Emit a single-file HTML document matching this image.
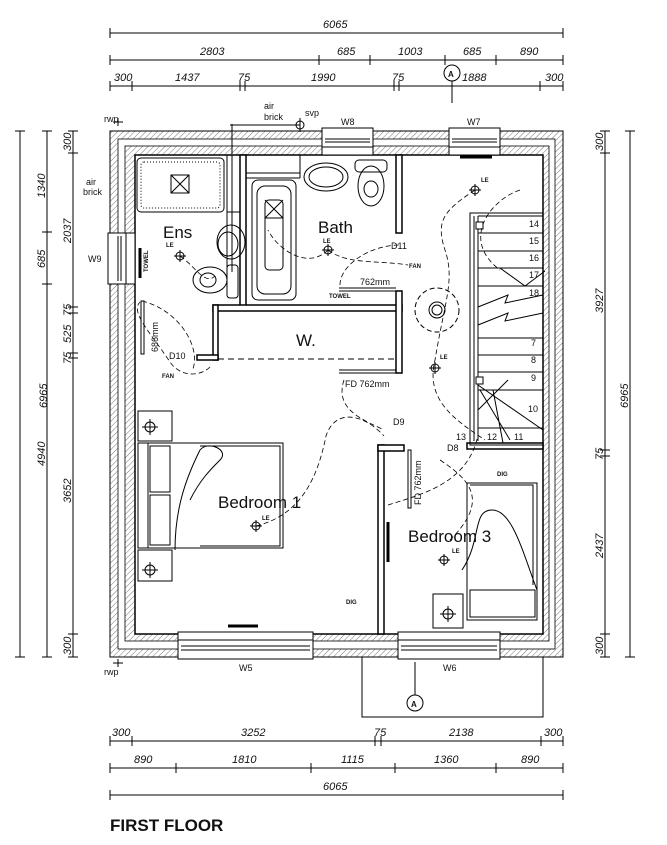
<!DOCTYPE html>
<html><head><meta charset="utf-8"><style>
html,body{margin:0;padding:0;background:#fff}
svg{display:block}
text{font-family:"Liberation Sans",sans-serif;fill:#111}
.d{font-size:11px;font-style:italic}
.s{font-size:9px}
.b{font-size:6px;font-weight:bold}
</style></head><body>
<svg width="667" height="845" viewBox="0 0 667 845" xmlns="http://www.w3.org/2000/svg">
<defs>
<pattern id="h" width="4" height="4" patternUnits="userSpaceOnUse" patternTransform="rotate(45)">
<rect width="4" height="4" fill="#fff"/><line x1="0" y1="0" x2="0" y2="4" stroke="#555" stroke-width="0.8"/></pattern>
</defs>
<g stroke="#000" stroke-width="1" fill="none">
<line x1="110" y1="33" x2="563" y2="33"/>
<line x1="110" y1="60" x2="563" y2="60"/>
<line x1="110" y1="86" x2="563" y2="86"/>
<path d="M110 28v10M563 28v10M110 55v10M319 55v10M370 55v10M445 55v10M496 55v10M563 55v10M110 81v10M132 81v10M240 81v10M245 81v10M394 81v10M399 81v10M540 81v10M563 81v10"/>
<line x1="110" y1="741" x2="563" y2="741"/>
<line x1="110" y1="768" x2="563" y2="768"/>
<line x1="110" y1="795" x2="563" y2="795"/>
<path d="M110 736v10M132 736v10M375 736v10M381 736v10M541 736v10M563 736v10M110 763v10M176 763v10M311 763v10M395 763v10M496 763v10M563 763v10M110 790v10M563 790v10"/>
<line x1="20" y1="131" x2="20" y2="657"/>
<line x1="47" y1="131" x2="47" y2="657"/>
<line x1="73" y1="131" x2="73" y2="657"/>
<path d="M15 131h10M15 657h10M42 131h10M42 232h10M42 284h10M42 657h10M68 131h10M68 153h10M68 307h10M68 313h10M68 353h10M68 358h10M68 634h10M68 657h10"/>
<line x1="605" y1="131" x2="605" y2="657"/>
<line x1="630" y1="131" x2="630" y2="657"/>
<path d="M600 131h10M600 153h10M600 450h10M600 456h10M600 634h10M600 657h10M625 131h10M625 657h10"/>
</g>
<g class="d">
<text x="323" y="28">6065</text>
<text x="200" y="55">2803</text>
<text x="337" y="55">685</text>
<text x="398" y="55">1003</text>
<text x="463" y="55">685</text>
<text x="520" y="55">890</text>
<text x="114" y="81">300</text>
<text x="175" y="81">1437</text>
<text x="238" y="81">75</text>
<text x="311" y="81">1990</text>
<text x="392" y="81">75</text>
<text x="462" y="81">1888</text>
<text x="545" y="81">300</text>
<text x="112" y="736">300</text>
<text x="241" y="736">3252</text>
<text x="374" y="736">75</text>
<text x="449" y="736">2138</text>
<text x="544" y="736">300</text>
<text x="134" y="763">890</text>
<text x="232" y="763">1810</text>
<text x="341" y="763">1115</text>
<text x="434" y="763">1360</text>
<text x="521" y="763">890</text>
<text x="323" y="790">6065</text>
<g transform="rotate(-90)">
<text x="-408" y="47">6965</text>
<text x="-198" y="45">1340</text>
<text x="-268" y="45">685</text>
<text x="-466" y="45">4940</text>
<text x="-151" y="71">300</text>
<text x="-243" y="71">2037</text>
<text x="-316" y="71">75</text>
<text x="-343" y="71">525</text>
<text x="-364" y="71">75</text>
<text x="-503" y="71">3652</text>
<text x="-655" y="71">300</text>
<text x="-151" y="603">300</text>
<text x="-313" y="603">3927</text>
<text x="-460" y="603">75</text>
<text x="-558" y="603">2437</text>
<text x="-655" y="603">300</text>
<text x="-408" y="628">6965</text>
</g>
</g>
<rect x="110" y="131" width="453" height="526" fill="url(#h)" stroke="#000"/>
<rect x="118" y="139" width="437" height="510" fill="#fff" stroke="#000" stroke-width="0.8"/>
<rect x="125" y="146" width="424" height="495" fill="url(#h)" stroke="#000" stroke-width="0.8"/>
<rect x="135" y="155" width="408" height="479" fill="#fff" stroke="#000" stroke-width="1.5"/>
<g fill="#fff" stroke="#000" stroke-width="1">
<rect x="322" y="128" width="51" height="27"/><path d="M325 139h45M325 142h45M322 147h51"/>
<rect x="449" y="128" width="51" height="27"/><path d="M452 139h45M452 142h45M449 147h51"/>
<rect x="108" y="233" width="27" height="51"/><path d="M118 236v45M121 236v45M126 233v51"/>
<rect x="178" y="632" width="135" height="27"/><path d="M181 650h129M181 646h129M178 640h135"/>
<rect x="398" y="632" width="102" height="27"/><path d="M401 650h96M401 646h96M398 640h102"/>
</g>
<g stroke="#000" stroke-width="3"><path d="M460 157h32M228 626h30M388 522v40"/><path d="M140 248v30"/></g>
<g fill="#fff" stroke="#000" stroke-width="1.5">
<rect x="240" y="155" width="6" height="152"/>
<rect x="213" y="305" width="189" height="6"/>
<rect x="213" y="305" width="5" height="55"/>
<rect x="197" y="355" width="21" height="5"/>
<rect x="396" y="155" width="6" height="78"/>
<rect x="396" y="291" width="6" height="82"/>
<rect x="378" y="445" width="6" height="189"/>
<rect x="378" y="445" width="26" height="6"/>
<rect x="467" y="443" width="76" height="6"/>
</g>
<g stroke="#000" stroke-width="1" fill="none">
<path d="M227 155v117M232 155v117M227 212h13M246 173h54M246 178h54M300 155v23"/>
<path d="M218 359h178" stroke-dasharray="6 4"/>
<rect x="141" y="301" width="3" height="53"/>
<path d="M339 288h57M339 291h57M339 370h57M339 373h57"/>
<rect x="408" y="450" width="3" height="58"/>
<rect x="137" y="158" width="87" height="54" rx="4"/>
<rect x="141" y="162" width="79" height="46" rx="3" stroke-dasharray="1 2"/>
<rect x="171" y="175" width="18" height="18"/><path d="M171 175l18 18M189 175l-18 18"/>
<rect x="252" y="180" width="44" height="120" rx="6"/>
<rect x="257" y="186" width="34" height="108" rx="8"/>
<rect x="265" y="200" width="18" height="70" rx="4"/>
<path d="M265 200l18 18M283 200l-18 18M265 218h18"/>
<ellipse cx="326" cy="177" rx="22" ry="14"/><ellipse cx="326" cy="177" rx="17" ry="10"/>
<rect x="355" y="160" width="32" height="12" rx="4"/><ellipse cx="371" cy="186" rx="13" ry="20"/><ellipse cx="371" cy="189" rx="7" ry="8"/>
<ellipse cx="231" cy="242" rx="14" ry="17"/><ellipse cx="228" cy="244" rx="10" ry="12"/>
<rect x="227" y="265" width="11" height="33" rx="3"/><ellipse cx="210" cy="280" rx="17" ry="13"/><ellipse cx="208" cy="280" rx="8" ry="7"/>
<rect x="470" y="213" width="73" height="232"/>
<path d="M474 216v225M478 216v225"/>
<path d="M478 216h65M478 233h65M478 251h65M478 268h65M478 286h65M478 338h65M478 355h65M478 372h65M478 390h65M478 428h65"/>
<path d="M478 307l30-12-3 8l38-8M478 325l30-12-3 8l38-8"/>
<path d="M478 385l65 45M480 390l30 50M478 410l30-30M493 390l10 53M500 268l25 18 20-15"/>
<rect x="476" y="222" width="7" height="7" fill="#fff"/><rect x="476" y="377" width="7" height="7" fill="#fff"/>
<rect x="138" y="443" width="145" height="105"/>
<rect x="138" y="443" width="10" height="105"/>
<path d="M150 446h20v46h-20zM150 495h20v50h-20z"/>
<path d="M175 550c0-40 10-70 25-100c8-10 30 0 20 10c-10 10-20 20-30 40M200 446h80v100h-80"/>
<rect x="138" y="411" width="34" height="30"/><rect x="138" y="550" width="34" height="31"/>
<rect x="467" y="483" width="70" height="137"/><rect x="470" y="590" width="65" height="27"/>
<path d="M470 485h63v100M462 570c20-30 10-60 30-60c20 0 30 40 45 80"/>
<rect x="433" y="594" width="30" height="34"/>
<g><circle cx="180" cy="256" r="4"/><path d="M174 256h12M180 250v12"/>
<circle cx="328" cy="250" r="4"/><path d="M322 250h12M328 244v12"/>
<circle cx="475" cy="190" r="4"/><path d="M469 190h12M475 184v12"/>
<circle cx="435" cy="368" r="4"/><path d="M429 368h12M435 362v12"/>
<circle cx="256" cy="526" r="4"/><path d="M250 526h12M256 520v12"/>
<circle cx="444" cy="560" r="4"/><path d="M438 560h12M444 554v12"/>
<circle cx="150" cy="427" r="5"/><path d="M142 427h16M150 419v16"/>
<circle cx="150" cy="570" r="5"/><path d="M142 570h16M150 562v16"/>
<circle cx="448" cy="614" r="5"/><path d="M440 614h16M448 606v16"/>
<circle cx="437" cy="310" r="8"/><circle cx="437" cy="310" r="5"/>
<circle cx="437" cy="310" r="22" stroke-dasharray="5 3"/></g>
<g stroke-dasharray="5 3" stroke-width="0.8">
<path d="M180 256c15 10 25 30 35 20M210 367c-10 10-30 10-40-5c-20-30-40-50-30-60"/>
<path d="M328 250c-20 20-50 0-60-20M328 250c20 15 50 10 80 15M340 285c0-20 30-40 60-40"/>
<path d="M475 190c-30 20-40 30-30 60c10 30 0 50-10 110c-10 40 20 60 50 80M520 190c-30 10-60 50-20 80"/>
<path d="M256 526c40-10 60-40 70-90c10-30 40-20 58 0M344 380c-10 30 20 40 40 50M388 505c30-10 80-20 90-70M440 460c30 20 50 40 10 80"/>
<path d="M142 301c40 10 60 50 50 70"/>
</g>
<circle cx="452" cy="73" r="8" fill="#fff"/><line x1="452" y1="81" x2="452" y2="103"/>
<circle cx="415" cy="703" r="8" fill="#fff"/><line x1="415" y1="662" x2="415" y2="695"/>
<path d="M362 657v60h181v-60"/>
<path d="M118 118v8M113 122h10M118 659v8M113 663h10"/>
<circle cx="300" cy="125" r="4"/><path d="M300 118v14M230 125h70M232 124v30"/>
</g>
<g class="s">
<text x="448" y="77" font-weight="bold" font-size="8">A</text>
<text x="411" y="707" font-weight="bold" font-size="8">A</text>
<text x="341" y="125">W8</text><text x="467" y="125">W7</text>
<text x="88" y="262">W9</text><text x="239" y="671">W5</text><text x="443" y="671">W6</text>
<text x="104" y="122">rwp</text><text x="104" y="675">rwp</text>
<text x="86" y="185">air</text><text x="83" y="195">brick</text>
<text x="264" y="109">air</text><text x="264" y="120">brick</text>
<text x="305" y="116">svp</text>
<text x="391" y="249">D11</text><text x="360" y="285">762mm</text>
<text x="169" y="359">D10</text><text x="345" y="387">FD 762mm</text>
<text x="393" y="425">D9</text><text x="447" y="451">D8</text>
<text x="456" y="440">13</text><text x="487" y="440">12</text><text x="514" y="440">11</text>
<text x="529" y="227">14</text><text x="529" y="244">15</text><text x="529" y="261">16</text><text x="529" y="278">17</text><text x="529" y="296">18</text>
<text x="531" y="346">7</text><text x="531" y="363">8</text><text x="531" y="381">9</text><text x="528" y="412">10</text>
<text transform="translate(158,352) rotate(-90)">686mm</text>
<text transform="translate(421,505) rotate(-90)">FD 762mm</text>
</g>
<g class="b">
<text x="409" y="268">FAN</text><text x="162" y="378">FAN</text>
<text x="329" y="298">TOWEL</text><text transform="translate(148,272) rotate(-90)">TOWEL</text>
<text x="346" y="604">DIG</text><text x="497" y="476">DIG</text>
<text x="166" y="247">LE</text><text x="323" y="243">LE</text><text x="481" y="182">LE</text><text x="440" y="359">LE</text>
<text x="262" y="520">LE</text><text x="452" y="553">LE</text>
</g>
<g font-size="17px"><text x="163" y="238">Ens</text><text x="318" y="233">Bath</text><text x="296" y="346">W.</text>
<text x="218" y="508">Bedroom 1</text><text x="408" y="542">Bedroom 3</text></g>
<text x="110" y="831" font-size="17" font-weight="bold">FIRST FLOOR</text>
</svg>
</body></html>
